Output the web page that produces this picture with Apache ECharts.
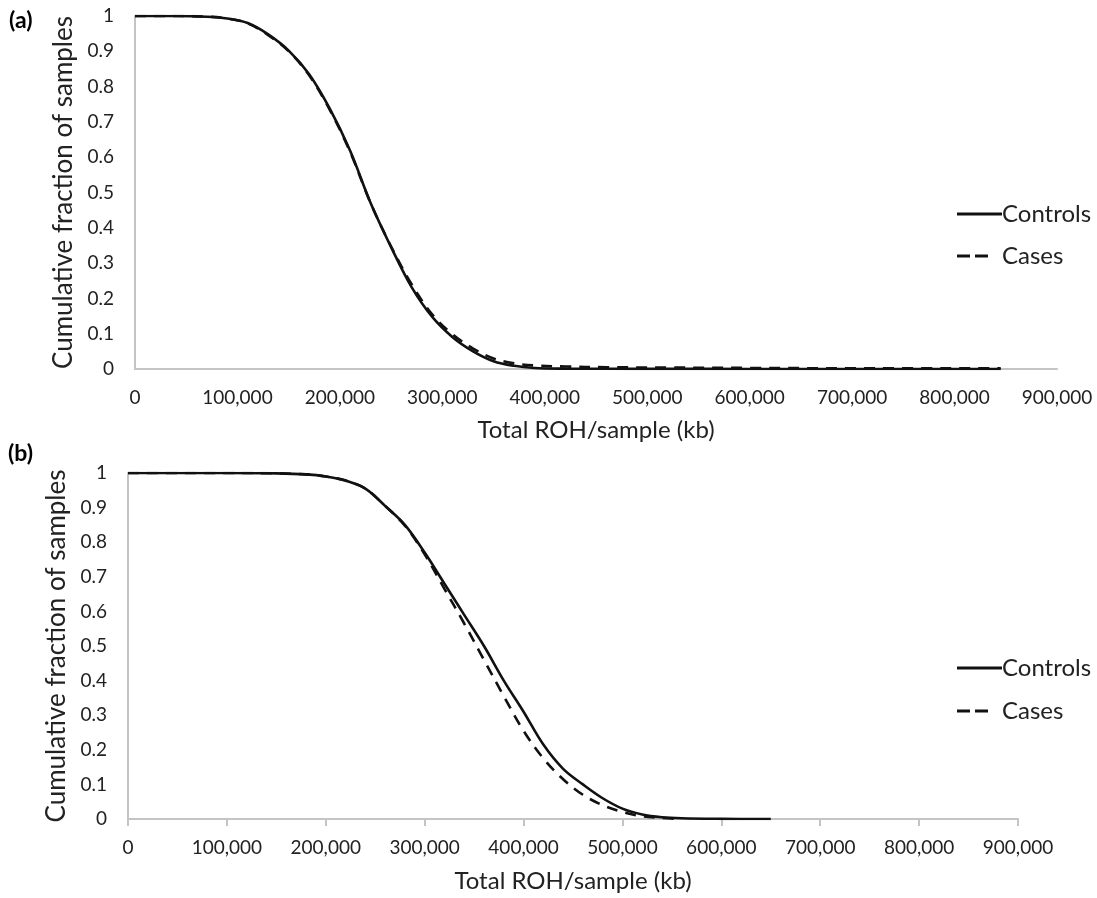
<!DOCTYPE html>
<html>
<head>
<meta charset="utf-8">
<script src="https://cdn.jsdelivr.net/npm/echarts@6/dist/echarts.min.js"></script>
<style>
html,body{margin:0;padding:0;background:#fff;}
#c{width:1097px;height:898px;}
</style>
</head>
<body>
<div id="c"></div>
<script>
// Panel (a) data: x in kb (thousands)
const aControlsX = [0, 40, 70, 90, 110, 130, 150, 170, 190, 210, 230, 250, 270, 290, 310, 330, 350, 370, 390, 420, 460, 520, 600, 700, 845].map(v => v * 1000);
const aControlsY = [1, 1, 0.998, 0.993, 0.98, 0.948, 0.902, 0.835, 0.738, 0.618, 0.47, 0.345, 0.232, 0.148, 0.09, 0.05, 0.022, 0.009, 0.003, 0.001, 0.0005, 0.0003, 0.0002, 0.0001, 0];
const aCasesX = [0, 40, 70, 90, 110, 130, 150, 170, 190, 210, 230, 250, 270, 290, 310, 330, 350, 370, 390, 420, 460, 520, 600, 700, 845].map(v => v * 1000);
const aCasesY = [1, 1, 0.998, 0.993, 0.979, 0.946, 0.9, 0.832, 0.735, 0.615, 0.47, 0.347, 0.24, 0.155, 0.098, 0.058, 0.03, 0.016, 0.01, 0.007, 0.005, 0.004, 0.003, 0.002, 0.002];

// Panel (b) data
const bControlsX = [0, 100, 150, 180, 200, 220, 240, 260, 280, 300, 320, 340, 360, 380, 400, 420, 440, 460, 480, 500, 520, 540, 560, 600, 650].map(v => v * 1000);
const bControlsY = [1, 1, 0.999, 0.996, 0.99, 0.978, 0.955, 0.905, 0.85, 0.77, 0.68, 0.59, 0.5, 0.4, 0.31, 0.215, 0.145, 0.1, 0.06, 0.03, 0.013, 0.005, 0.002, 0.0005, 0];
const bCasesX = [0, 100, 150, 180, 200, 220, 240, 260, 280, 300, 320, 340, 360, 380, 400, 420, 440, 460, 480, 500, 520, 540, 560].map(v => v * 1000);
const bCasesY = [1, 1, 0.999, 0.996, 0.99, 0.978, 0.955, 0.905, 0.848, 0.765, 0.665, 0.565, 0.46, 0.355, 0.255, 0.175, 0.115, 0.07, 0.04, 0.02, 0.008, 0.003, 0];

const panelLabels = ['(a)', '(b)'];
const seriesNames = ['Controls', 'Cases'];
const xTitle = 'Total ROH/sample (kb)';
const yTitle = 'Cumulative fraction of samples';

const FONT = 'Lato';
const TXT = '#222';
const AXIS = '#c4c4c4';
const INK = '#111';

function pairs(xs, ys) { return xs.map((x, i) => [x, ys[i]]); }

function xAxisCfg(idx, ticks, gap) {
  return {
    type: 'value', gridIndex: idx, min: 0, max: 900000, interval: 100000,
    name: xTitle, nameLocation: 'middle', nameGap: gap,
    nameTextStyle: { fontFamily: FONT, fontSize: 24, color: TXT },
    axisLine: { show: true, lineStyle: { color: AXIS, width: 2 } },
    axisTick: { show: ticks, length: 7, lineStyle: { color: AXIS, width: 2 } },
    splitLine: { show: false },
    axisLabel: { fontFamily: FONT, fontSize: 19, color: TXT, margin: 19,
      formatter: v => v.toLocaleString('en-US') }
  };
}
function yAxisCfg(idx, gap) {
  return {
    type: 'value', gridIndex: idx, min: 0, max: 1, interval: 0.1,
    name: yTitle, nameLocation: 'middle', nameGap: gap, nameRotate: 90,
    nameTextStyle: { fontFamily: FONT, fontSize: 26, color: TXT },
    axisLine: { show: true, lineStyle: { color: AXIS, width: 2 } },
    axisTick: { show: false },
    splitLine: { show: false },
    axisLabel: { fontFamily: FONT, fontSize: 19, color: TXT, margin: 21,
      formatter: v => String(Math.round(v * 10) / 10) }
  };
}
function lineSeries(name, data, idx, dashed) {
  return {
    name, type: 'line', xAxisIndex: idx, yAxisIndex: idx, data,
    showSymbol: false, symbol: 'none', smooth: 0.35,
    lineStyle: { color: INK, width: 2.6, type: dashed ? [11, 8] : 'solid' },
    itemStyle: { color: INK, borderWidth: 0 }, animation: false
  };
}
const SOLID_ICON = 'path://M0,0h45v3h-45z';
const DASH_ICON = 'path://M0,0h13v3h-13z M18,0h13v3h-13z';
function legendItem(name, icon, w, left, centerY, padLeft) {
  return {
    left, top: centerY - 14, itemWidth: w, itemHeight: 3,
    data: [{ name, icon }],
    itemStyle: { borderWidth: 0 },
    textStyle: { fontFamily: FONT, fontSize: 24, color: TXT, padding: [0, 0, 0, padLeft] },
    selectedMode: false
  };
}

const chart = echarts.init(document.getElementById('c'));
chart.setOption({
  backgroundColor: '#fff',
  animation: false,
  grid: [
    { left: 135, right: 40, top: 16, height: 353 },
    { left: 128, right: 79, top: 473, height: 346 }
  ],
  xAxis: [xAxisCfg(0, false, 49), xAxisCfg(1, true, 50)],
  yAxis: [yAxisCfg(0, 57), yAxisCfg(1, 58)],
  legend: [
    legendItem(seriesNames[0], SOLID_ICON, 45, 952, 211, -5),
    legendItem(seriesNames[1], DASH_ICON, 31, 952, 253, 9),
    legendItem(seriesNames[0], SOLID_ICON, 45, 952, 665, -5),
    legendItem(seriesNames[1], DASH_ICON, 31, 952, 708, 9)
  ],
  graphic: [
    { type: 'text', left: 9, top: 9, style: { text: panelLabels[0], fontFamily: FONT, fontSize: 23, fontWeight: 'bold', fill: '#000' } },
    { type: 'text', left: 8, top: 442, style: { text: panelLabels[1], fontFamily: FONT, fontSize: 23, fontWeight: 'bold', fill: '#000' } }
  ],
  series: [
    lineSeries(seriesNames[0], pairs(aControlsX, aControlsY), 0, false),
    lineSeries(seriesNames[1], pairs(aCasesX, aCasesY), 0, true),
    lineSeries(seriesNames[0], pairs(bControlsX, bControlsY), 1, false),
    lineSeries(seriesNames[1], pairs(bCasesX, bCasesY), 1, true)
  ]
});
</script>
</body>
</html>
